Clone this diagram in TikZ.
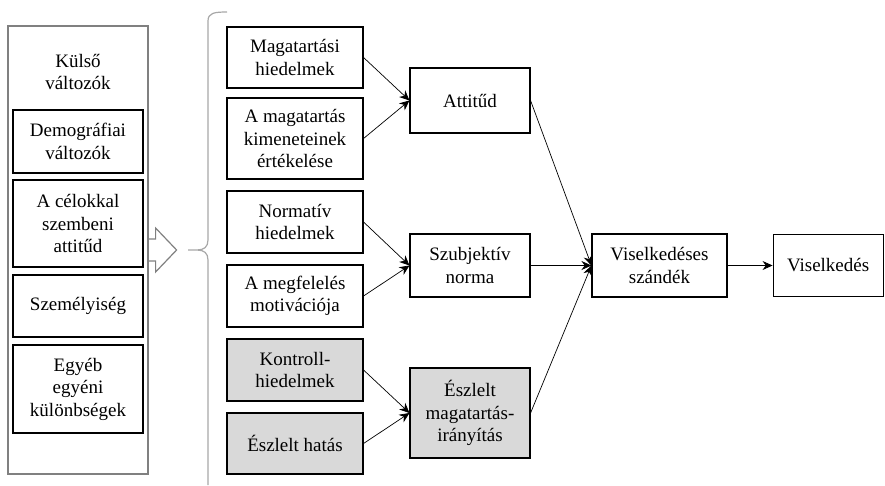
\documentclass[tikz,border=0pt]{standalone}
\usepackage{fontspec}
\setmainfont{Liberation Serif}
\usetikzlibrary{arrows.meta,positioning,calc}

\definecolor{framegray}{HTML}{808080}
\definecolor{bracegray}{HTML}{A8A8A8}
\definecolor{shadegray}{HTML}{D9D9D9}

\begin{document}
\begin{tikzpicture}[
    x=1pt, y=-1pt,
    font=\fontsize{19}{22.5}\selectfont,
    varbox/.style={
        draw,
        line width=1.1pt,
        inner sep=0pt,
        align=center
    },
    leftbox/.style={varbox, minimum width=130pt},
    midbox/.style={varbox, minimum width=136pt},
    sumbox/.style={varbox, minimum width=120pt},
    shaded/.style={fill=shadegray},
    outerbox/.style={draw=framegray, line width=1.2pt, minimum width=140pt, minimum height=448pt, inner sep=0pt},
    bigarrow/.style={draw=framegray, line width=1.2pt, line join=miter},
    arrow/.style={-{Stealth[length=10pt,width=9pt]}, line width=0.7pt}
]
\useasboundingbox (0,0) rectangle (885,485);

% kulso valtozok
\node[outerbox] (kulso) at (78,250) {};
\node[align=center, inner sep=0pt] (kulsolbl) at (78,72) {Külső\\változók};
\node[leftbox, minimum height=63pt] (demo) at (78,141.5) {Demográfiai\\változók};
\node[leftbox, minimum height=87pt] (celok) at (78,223.5) {A célokkal\\szembeni\\attitűd};
\node[leftbox, minimum height=62pt] (szemely) at (78,306) {Személyiség};
\node[leftbox, minimum height=88pt] (egyeb) at (78,389) {Egyéb\\egyéni\\különbségek};

\draw[bigarrow] ($(kulso.east)+(0,-11)$) -- ++(7,0) -- ++(0,-11) -- ++(21,22)
    -- ++(-21,22) -- ++(0,-11) -- ++(-7,0);

\coordinate (bracetip) at (188,250);
\draw[bracegray, line width=1.2pt] (227,12) .. controls (214,12) and (208,13) .. (208,21)
    -- (208,240) .. controls (208,247) and (204,250) .. (197,250) -- (bracetip)
    -- (197,250) .. controls (204,250) and (208,253) .. (208,260) -- (208,485);

% hiedelmek
\node[midbox, minimum height=61pt] (magat) at (295,57.5) {Magatartási\\hiedelmek};
\node[midbox, minimum height=81pt] (kimenet) at (295,138.5) {A magatartás\\kimeneteinek\\értékelése};
\node[midbox, minimum height=62pt] (normativ) at (295,222) {Normatív\\hiedelmek};
\node[midbox, minimum height=62pt] (megfel) at (295,296) {A megfelelés\\motivációja};
\node[midbox, shaded, minimum height=62pt] (kontroll) at (295,370) {Kontroll-\\hiedelmek};
\node[midbox, shaded, minimum height=61pt] (hatas) at (295,443.5) {Észlelt hatás};

% attitud, norma, iranyitas
\node[sumbox, minimum height=65pt] (attitud) at (470,100.5) {Attitűd};
\node[sumbox, minimum height=63pt] (norma) at (470,265.5) {Szubjektív\\norma};
\node[sumbox, shaded, minimum height=90pt] (iranyit) at (470,413) {Észlelt\\magatartás-\\irányítás};

\node[varbox, minimum width=135pt, minimum height=63pt] (szandek) at (659.5,265.5) {Viselkedéses\\szándék};
\node[varbox, minimum width=110pt, minimum height=62pt, right=45pt of szandek] (viselk) {Viselkedés};

\draw[arrow] (magat.east) -- (attitud.west);
\draw[arrow] (kimenet.east) -- (attitud.west);
\draw[arrow] (normativ.east) -- (norma.west);
\draw[arrow] (megfel.east) -- (norma.west);
\draw[arrow] (kontroll.east) -- (iranyit.west);
\draw[arrow] (hatas.east) -- (iranyit.west);
\draw[arrow] (attitud.east) -- (szandek.west);
\draw[arrow] (norma.east) -- (szandek.west);
\draw[arrow] (iranyit.east) -- (szandek.west);
\draw[arrow] (szandek) -- (viselk);

\end{tikzpicture}
\end{document}
